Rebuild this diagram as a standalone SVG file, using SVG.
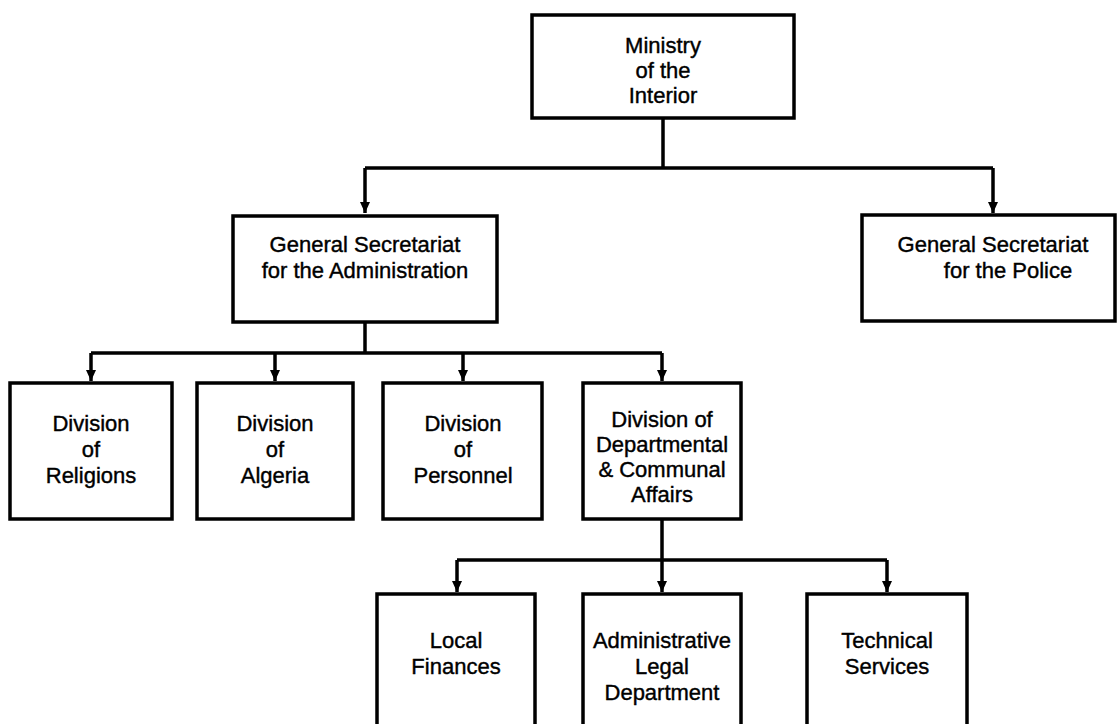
<svg xmlns="http://www.w3.org/2000/svg" width="1117" height="724" viewBox="0 0 1117 724">
<style>
.box{fill:#fff;stroke:#000;stroke-width:3.5}
.ln{fill:none;stroke:#000;stroke-width:3.5}
text{font-family:"Liberation Sans",Arial,sans-serif;font-size:22px;fill:#000;stroke:#000;stroke-width:0.4;text-anchor:middle}
</style>
<defs>
<marker id="ah" markerUnits="userSpaceOnUse" markerWidth="11" markerHeight="10" viewBox="0 0 11 10" refX="11" refY="5" orient="auto">
<path d="M0,0 L11,5 L0,10 z" fill="#000"/>
</marker>
</defs>
<rect width="1117" height="724" fill="#fff"/>
<g id="connectors">
<path class="ln" d="M663,118 V168 M365,168 H993"/>
<path class="ln" d="M365,168 V213" marker-end="url(#ah)"/>
<path class="ln" d="M993,168 V213" marker-end="url(#ah)"/>
<path class="ln" d="M365,322 V353 M91,353 H662"/>
<path class="ln" d="M91,353 V381" marker-end="url(#ah)"/>
<path class="ln" d="M275,353 V381" marker-end="url(#ah)"/>
<path class="ln" d="M463,353 V381" marker-end="url(#ah)"/>
<path class="ln" d="M662,353 V381" marker-end="url(#ah)"/>
<path class="ln" d="M662,519 V560 M457,560 H887"/>
<path class="ln" d="M457,560 V592" marker-end="url(#ah)"/>
<path class="ln" d="M662,560 V592" marker-end="url(#ah)"/>
<path class="ln" d="M887,560 V592" marker-end="url(#ah)"/>
</g>
<g id="ministry">
<rect class="box" x="532" y="15" width="262" height="103"/>
<text x="663" y="53">Ministry</text>
<text x="663" y="78">of the</text>
<text x="663" y="103">Interior</text>
</g>
<g id="gs-admin">
<rect class="box" x="233" y="216" width="264" height="106"/>
<text x="365" y="252">General Secretariat</text>
<text x="365" y="278">for the Administration</text>
</g>
<g id="gs-police">
<rect class="box" x="862" y="215" width="253" height="106"/>
<text x="993" y="252">General Secretariat</text>
<text x="1008" y="278">for the Police</text>
</g>
<g id="div-religions">
<rect class="box" x="10" y="383" width="162" height="136"/>
<text x="91" y="431">Division</text>
<text x="91" y="457">of</text>
<text x="91" y="483">Religions</text>
</g>
<g id="div-algeria">
<rect class="box" x="197" y="383" width="156" height="136"/>
<text x="275" y="431">Division</text>
<text x="275" y="457">of</text>
<text x="275" y="483">Algeria</text>
</g>
<g id="div-personnel">
<rect class="box" x="383" y="383" width="159" height="136"/>
<text x="463" y="431">Division</text>
<text x="463" y="457">of</text>
<text x="463" y="483">Personnel</text>
</g>
<g id="div-departmental">
<rect class="box" x="583" y="383" width="158" height="136"/>
<text x="662" y="427">Division of</text>
<text x="662" y="452">Departmental</text>
<text x="662" y="477">&amp; Communal</text>
<text x="662" y="502">Affairs</text>
</g>
<g id="local-finances">
<rect class="box" x="377" y="594" width="158" height="140"/>
<text x="456" y="648">Local</text>
<text x="456" y="674">Finances</text>
</g>
<g id="admin-legal">
<rect class="box" x="583" y="594" width="158" height="140"/>
<text x="662" y="648">Administrative</text>
<text x="662" y="674">Legal</text>
<text x="662" y="700">Department</text>
</g>
<g id="technical-services">
<rect class="box" x="807" y="594" width="160" height="140"/>
<text x="887" y="648">Technical</text>
<text x="887" y="674">Services</text>
</g>
</svg>
